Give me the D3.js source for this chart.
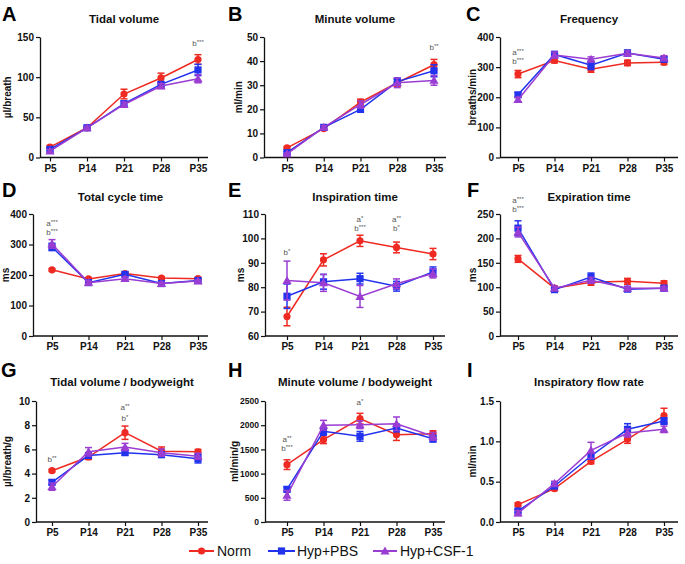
<!DOCTYPE html>
<html>
<head>
<meta charset="utf-8">
<script src="https://cdn.jsdelivr.net/npm/d3@7"></script>
<style>
  html, body { margin: 0; padding: 0; background: #fff; }
  svg { display: block; }
  .tick text { font-family: "Liberation Sans", Arial, sans-serif; font-weight: bold; font-size: 10px; fill: #111; }
</style>
</head>
<body>
<svg id="chart" width="685" height="564"></svg>
<script>
// ---------- DATA ----------
const categories = ["P5", "P14", "P21", "P28", "P35"];
const seriesNames = ["Norm", "Hyp+PBS", "Hyp+CSF-1"];

// A: Tidal volume (µl/breath)
const tidalNorm = [13, 37, 79, 99, 122];
const tidalNormErr = [2, 1.5, 6, 6, 6];
const tidalPBS = [10, 37, 67, 91, 109];
const tidalPBSErr = [2, 1.5, 3, 3, 7];
const tidalCSF = [8, 37, 66, 89, 98];
const tidalCSFErr = [2, 1.5, 3, 3, 5];

// B: Minute volume (ml/min)
const minuteNorm = [4, 12, 23, 31, 38.5];
const minuteNormErr = [0.5, 0.7, 1.2, 1.5, 2.2];
const minutePBS = [2, 12.5, 20, 31.5, 36];
const minutePBSErr = [0.5, 0.7, 1.2, 1.5, 2.5];
const minuteCSF = [1.5, 12.5, 22, 31, 32];
const minuteCSFErr = [0.4, 0.7, 1.5, 2, 2];

// C: Frequency (breaths/min)
const freqNorm = [277, 322, 293, 314, 316];
const freqNormErr = [12, 8, 10, 9, 8];
const freqPBS = [208, 342, 306, 347, 326];
const freqPBSErr = [7, 10, 14, 9, 8];
const freqCSF = [192, 340, 326, 346, 330];
const freqCSFErr = [8, 10, 8, 8, 8];

// D: Total cycle time (ms)
const cycleNorm = [217, 187, 205, 190, 188];
const cycleNormErr = [4, 4, 5, 4, 4];
const cyclePBS = [292, 175, 202, 172, 182];
const cyclePBSErr = [12, 6, 6, 5, 5];
const cycleCSF = [302, 175, 188, 172, 180];
const cycleCSFErr = [14, 5, 6, 5, 4];

// E: Inspiration time (ms)
const inspNorm = [68, 91.2, 99, 96.3, 93.6];
const inspNormErr = [3.8, 2.5, 2.3, 2.2, 2.3];
const inspPBS = [76.3, 82.2, 83.5, 80.4, 86.3];
const inspPBSErr = [5, 3, 2.2, 2, 2];
const inspCSF = [82.7, 81.8, 76.2, 81.4, 85.6];
const inspCSFErr = [8, 3.5, 4.5, 2, 1.8];

// F: Expiration time (ms)
const expNorm = [158, 98, 110, 112, 108];
const expNormErr = [7, 4, 6, 6, 5];
const expPBS = [221, 95, 121, 96, 98];
const expPBSErr = [15, 4, 8, 3, 3];
const expCSF = [213, 98, 114, 98, 98];
const expCSFErr = [10, 4, 6, 3, 3];

// G: Tidal volume / bodyweight (µl/breath/g)
const tvbwNorm = [4.24, 5.37, 7.38, 5.85, 5.8];
const tvbwNormErr = [0.1, 0.2, 0.55, 0.35, 0.2];
const tvbwPBS = [3.28, 5.5, 5.73, 5.56, 5.23];
const tvbwPBSErr = [0.2, 0.2, 0.2, 0.2, 0.35];
const tvbwCSF = [2.92, 5.8, 6.2, 5.73, 5.43];
const tvbwCSFErr = [0.3, 0.35, 0.3, 0.3, 0.25];

// H: Minute volume / bodyweight (ml/min/g)
const mvbwNorm = [1185, 1700, 2135, 1805, 1825];
const mvbwNormErr = [100, 80, 110, 120, 60];
const mvbwPBS = [675, 1873, 1770, 1942, 1722];
const mvbwPBSErr = [50, 80, 100, 80, 70];
const mvbwCSF = [550, 2000, 2010, 2030, 1770];
const mvbwCSFErr = [100, 100, 80, 140, 80];

// I: Inspiratory flow rate (ml/min)
const flowNorm = [0.215, 0.413, 0.752, 1.025, 1.32];
const flowNormErr = [0.02, 0.02, 0.03, 0.05, 0.09];
const flowPBS = [0.136, 0.446, 0.818, 1.149, 1.252];
const flowPBSErr = [0.02, 0.03, 0.04, 0.07, 0.04];
const flowCSF = [0.11, 0.475, 0.888, 1.103, 1.149];
const flowCSFErr = [0.03, 0.03, 0.1, 0.05, 0.04];

// Y tick values per panel
const ticksA = [0, 50, 100, 150];
const ticksB = [0, 10, 20, 30, 40, 50];
const ticksC = [0, 100, 200, 300, 400];
const ticksD = [0, 100, 200, 300, 400];
const ticksE = [60, 70, 80, 90, 100, 110];
const ticksF = [0, 50, 100, 150, 200, 250];
const ticksG = [0, 2, 4, 6, 8, 10];
const ticksH = [0, 500, 1000, 1500, 2000, 2500];
const ticksI = [0, 0.5, 1.0, 1.5];

// Significance annotations: [category, y-value, letter, stars]
const annA = [["P35", 139, "b", "***"]];
const annB = [["P35", 44.6, "b", "**"]];
const annC = [["P5", 340, "a", "***"], ["P5", 311, "b", "***"]];
const annD = [["P5", 362, "a", "***"], ["P5", 332, "b", "***"]];
const annE = [["P5", 93, "b", "*"], ["P21", 106.6, "a", "*"], ["P21", 102.9, "b", "***"], ["P28", 106.6, "a", "**"], ["P28", 102.9, "b", "*"]];
const annF = [["P5", 273, "a", "***"], ["P5", 255, "b", "***"]];
const annG = [["P5", 4.93, "b", "**"], ["P21", 9.23, "a", "**"], ["P21", 8.32, "b", "*"]];
const annH = [["P21", 2424, "a", "*"], ["P5", 1647, "a", "**"], ["P5", 1461, "b", "***"]];
const annI = [];

// ---------- STYLE / LAYOUT ----------
const colors = ["#ee2a22", "#2233ee", "#9a3dd2"];
const FONT = '"Liberation Sans", Arial, sans-serif';

const panels = [
  { letter: "A", title: "Tidal volume", ylabel: "\u00b5l/breath", series: [[tidalNorm, tidalNormErr], [tidalPBS, tidalPBSErr], [tidalCSF, tidalCSFErr]], ticks: ticksA, ann: annA, fmt: d3.format("d"),
    L: 40, R: 208, x0: 50, x1: 198, top: 37, bot: 157.5, letX: 2, letY: 21, titleY: 23, labX: 11, tfs: 10 },
  { letter: "B", title: "Minute volume", ylabel: "ml/min", series: [[minuteNorm, minuteNormErr], [minutePBS, minutePBSErr], [minuteCSF, minuteCSFErr]], ticks: ticksB, ann: annB, fmt: d3.format("d"),
    L: 264, R: 446, x0: 287, x1: 434, top: 37, bot: 157.5, letX: 228, letY: 21, titleY: 23, labX: 242, tfs: 10 },
  { letter: "C", title: "Frequency", ylabel: "breaths/min", series: [[freqNorm, freqNormErr], [freqPBS, freqPBSErr], [freqCSF, freqCSFErr]], ticks: ticksC, ann: annC, fmt: d3.format("d"),
    L: 500, R: 678, x0: 518, x1: 664, top: 37, bot: 157.5, letX: 466, letY: 21, titleY: 23, labX: 476, tfs: 10 },
  { letter: "D", title: "Total cycle time", ylabel: "ms", series: [[cycleNorm, cycleNormErr], [cyclePBS, cyclePBSErr], [cycleCSF, cycleCSFErr]], ticks: ticksD, ann: annD, fmt: d3.format("d"),
    L: 33, R: 208, x0: 52, x1: 198, top: 214, bot: 336, letX: 2, letY: 197, titleY: 201, labX: 8.5, tfs: 10 },
  { letter: "E", title: "Inspiration time", ylabel: "ms", series: [[inspNorm, inspNormErr], [inspPBS, inspPBSErr], [inspCSF, inspCSFErr]], ticks: ticksE, ann: annE, fmt: d3.format("d"),
    L: 265, R: 445, x0: 287, x1: 433, top: 214, bot: 336, letX: 228, letY: 197, titleY: 201, labX: 244, tfs: 10 },
  { letter: "F", title: "Expiration time", ylabel: "ms", series: [[expNorm, expNormErr], [expPBS, expPBSErr], [expCSF, expCSFErr]], ticks: ticksF, ann: annF, fmt: d3.format("d"),
    L: 500, R: 678, x0: 518, x1: 664, top: 214, bot: 336, letX: 467, letY: 197, titleY: 201, labX: 476, tfs: 10 },
  { letter: "G", title: "Tidal volume / bodyweight", ylabel: "\u00b5l/breath/g", series: [[tvbwNorm, tvbwNormErr], [tvbwPBS, tvbwPBSErr], [tvbwCSF, tvbwCSFErr]], ticks: ticksG, ann: annG, fmt: d3.format("d"),
    L: 36, R: 208, x0: 52, x1: 198, top: 401, bot: 522, letX: 1, letY: 377, titleY: 386, labX: 10.5, tfs: 10 },
  { letter: "H", title: "Minute volume / bodyweight", ylabel: "ml/min/g", series: [[mvbwNorm, mvbwNormErr], [mvbwPBS, mvbwPBSErr], [mvbwCSF, mvbwCSFErr]], ticks: ticksH, ann: annH, fmt: d3.format("d"),
    L: 265, R: 445, x0: 287, x1: 433, top: 401, bot: 522, letX: 228, letY: 377, titleY: 386, labX: 238, tfs: 8.5 },
  { letter: "I", title: "Inspiratory flow rate", ylabel: "ml/min", series: [[flowNorm, flowNormErr], [flowPBS, flowPBSErr], [flowCSF, flowCSFErr]], ticks: ticksI, ann: annI, fmt: d3.format(".1f"),
    L: 500, R: 678, x0: 518, x1: 664, top: 401, bot: 522, letX: 467, letY: 377, titleY: 386, labX: 476, tfs: 10 }
];

const svg = d3.select("#chart");

function marker(g, type, cx, cy, color) {
  if (type === 0) {
    g.append("circle").attr("cx", cx).attr("cy", cy).attr("r", 3.6).attr("fill", color);
  } else if (type === 1) {
    g.append("rect").attr("x", cx - 3.6).attr("y", cy - 3.6).attr("width", 7.2).attr("height", 7.2).attr("fill", color);
  } else {
    const s = 4.6;
    g.append("path").attr("d", `M${cx},${cy - s}L${cx + s},${cy + s * 0.75}L${cx - s},${cy + s * 0.75}Z`).attr("fill", color);
  }
}

panels.forEach(p => {
  const g = svg.append("g");
  const x = d3.scalePoint().domain(categories).range([p.x0, p.x1]).padding(0);
  const y = d3.scaleLinear().domain([p.ticks[0], p.ticks[p.ticks.length - 1]]).range([p.bot, p.top]);

  // panel letter
  g.append("text").attr("x", p.letX).attr("y", p.letY).text(p.letter)
    .attr("font-family", FONT).attr("font-weight", "bold").attr("font-size", 20).attr("fill", "#000");
  // title
  g.append("text").attr("x", (p.L + p.R) / 2).attr("y", p.titleY).attr("text-anchor", "middle").text(p.title)
    .attr("font-family", FONT).attr("font-weight", "bold").attr("font-size", 11.5).attr("fill", "#111");
  // y label
  g.append("text").attr("transform", `translate(${p.labX},${(p.top + p.bot) / 2}) rotate(-90)`)
    .attr("text-anchor", "middle").text(p.ylabel)
    .attr("font-family", FONT).attr("font-weight", "bold").attr("font-size", 10).attr("fill", "#111");

  // y axis
  const ya = g.append("g").attr("transform", `translate(${p.L},0)`)
    .call(d3.axisLeft(y).tickValues(p.ticks).tickFormat(p.fmt).tickSize(4).tickSizeOuter(0).tickPadding(2));
  ya.select(".domain").attr("stroke", "#111").attr("stroke-width", 1.3);
  ya.selectAll(".tick line").attr("stroke", "#111").attr("stroke-width", 1.2);
  ya.selectAll(".tick text").style("font-size", p.tfs + "px");

  // x axis
  const xa = g.append("g").attr("transform", `translate(0,${p.bot})`)
    .call(d3.axisBottom(x).tickSize(4).tickSizeOuter(0).tickPadding(3));
  xa.select(".domain").remove();
  xa.append("line").attr("x1", p.L).attr("x2", p.R).attr("stroke", "#111").attr("stroke-width", 1.3);
  xa.selectAll(".tick line").attr("stroke", "#111").attr("stroke-width", 1.2);

  // series
  const line = d3.line().x((d, i) => x(categories[i])).y(d => y(d));
  p.series.forEach((s, si) => {
    const [vals, errs] = s;
    const col = colors[si];
    const sg = g.append("g");
    sg.append("path").attr("d", line(vals)).attr("fill", "none").attr("stroke", col).attr("stroke-width", 1.5);
    vals.forEach((v, i) => {
      const cx = x(categories[i]);
      const yt = y(v + errs[i]), yb = y(v - errs[i]);
      sg.append("line").attr("x1", cx).attr("x2", cx).attr("y1", yt).attr("y2", yb).attr("stroke", col).attr("stroke-width", 1.5);
      [yt, yb].forEach(yy => sg.append("line").attr("x1", cx - 3.5).attr("x2", cx + 3.5).attr("y1", yy).attr("y2", yy).attr("stroke", col).attr("stroke-width", 1.5));
      marker(sg, si, cx, y(v), col);
    });
  });

  // annotations
  p.ann.forEach(a => {
    const t = g.append("text").attr("x", x(a[0])).attr("y", y(a[1])).attr("text-anchor", "middle")
      .attr("font-family", FONT).attr("font-size", 8).attr("fill", "#555");
    t.append("tspan").text(a[2]);
    t.append("tspan").attr("font-size", 6).attr("dy", -2).text(a[3]);
  });
});

// legend
const legend = [
  { name: seriesNames[0], x1: 189, x2: 214, tx: 217 },
  { name: seriesNames[1], x1: 268, x2: 295, tx: 297 },
  { name: seriesNames[2], x1: 373, x2: 397, tx: 400 }
];
const lg = svg.append("g");
const ly = 551;
legend.forEach((l, i) => {
  lg.append("line").attr("x1", l.x1).attr("x2", l.x2).attr("y1", ly).attr("y2", ly).attr("stroke", colors[i]).attr("stroke-width", 2);
  marker(lg, i, (l.x1 + l.x2) / 2, ly, colors[i]);
  lg.append("text").attr("x", l.tx).attr("y", ly + 5).text(l.name)
    .attr("font-family", FONT).attr("font-size", 14).attr("fill", "#111");
});
</script>
</body>
</html>
